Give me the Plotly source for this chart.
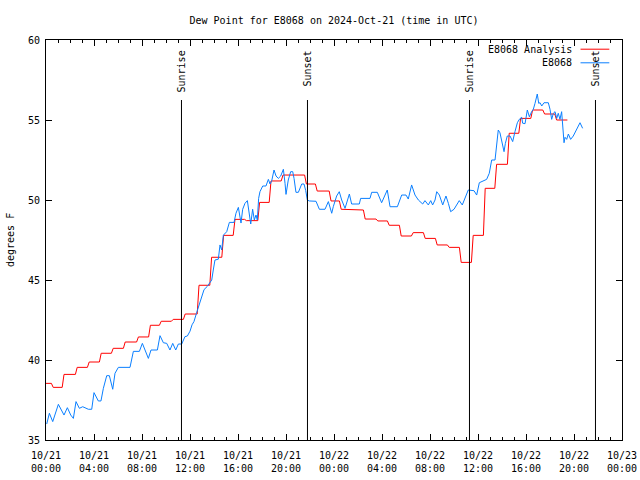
import pandas as pd
import plotly.graph_objects as go

# ---------------- data ----------------
base_day = "2024-10-21"

# Analysis (red): hourly step levels, hour offset where each level starts
red_step_hours = [0.0, 0.6, 1.5, 2.6, 3.6, 4.6, 5.6, 6.6, 7.7, 8.7, 9.6, 10.6, 11.6,
                  12.75, 13.8, 14.8, 15.75, 16.7, 17.8, 18.75, 19.75, 21.7, 22.6,
                  23.75, 24.6, 25.5, 26.6, 27.65, 28.6, 29.6, 30.6, 31.6, 32.6, 33.6,
                  34.6, 35.6, 36.6, 37.55, 38.6, 39.55, 40.55, 41.55, 42.55]
red_values = [38.54, 38.29, 39.1, 39.54, 39.875, 40.42, 40.73, 41.125, 41.44, 42.17,
              42.42, 42.54, 42.875, 44.67, 46.42, 47.79, 48.79, 48.71, 49.85, 51.19,
              51.56, 51.0, 50.56, 49.94, 49.42, 49.375, 48.81, 48.69, 48.42, 47.75,
              47.96, 47.6, 47.19, 47.04, 46.1, 47.79, 50.73, 52.23, 54.17, 55.1,
              55.625, 55.375, 55.0]
red_end_hour = 43.45

# Station observations (blue)
blue_hours = [0.06, 0.28, 0.56, 1.03, 1.5, 1.78, 2.06, 2.28, 2.5, 2.78, 3.06, 3.53, 3.81,
              4.0, 4.36, 4.58, 4.78, 5.06, 5.28, 5.56, 5.75, 6.03, 7.0, 7.28, 7.78,
              8.03, 8.53, 8.75, 9.28, 9.5, 9.78, 10.06, 10.33, 10.56, 10.81, 11.03,
              11.31, 11.58, 11.78, 12.0, 12.17, 12.33, 12.53, 12.81, 12.94, 13.17,
              13.44, 13.64, 13.81, 13.94, 14.08, 14.36, 14.5, 14.64, 14.78, 15.06,
              15.28, 15.67, 15.83, 16.03, 16.17, 16.25, 16.39, 16.58, 16.78, 16.92,
              17.06, 17.22, 17.36, 17.5, 17.61, 17.72, 17.83, 18.06, 18.33, 18.53,
              18.67, 18.81, 19.0, 19.17, 19.36, 19.56, 19.78, 19.92, 20.0, 20.19,
              20.39, 20.56, 20.67, 20.83, 21.03, 21.31, 21.5, 21.64, 21.78, 21.94,
              22.5, 22.78, 23.25, 23.53, 23.81, 23.94, 24.22, 24.44, 24.64, 24.92,
              25.28, 25.47, 26.11, 26.22, 27.0, 27.14, 27.61, 27.97, 28.44, 28.67,
              29.28, 29.64, 30.0, 30.19, 30.47, 30.75, 31.03, 31.39, 31.58, 31.86,
              32.06, 32.22, 32.42, 32.56, 32.78, 33.06, 33.33, 33.53, 33.72, 34.0,
              34.22, 34.44, 34.69, 35.06, 35.19, 35.67, 35.89, 36.11, 36.72, 36.94,
              37.14, 37.42, 37.56, 37.69, 37.83, 37.97, 38.17, 38.28, 38.44, 38.67,
              38.89, 39.08, 39.28, 39.44, 39.64, 39.72, 39.92, 40.11, 40.28, 40.47,
              40.61, 40.75, 40.94, 41.06, 41.17, 41.31, 41.5, 41.86, 42.0, 42.14,
              42.28, 42.42, 42.56, 42.69, 42.83, 42.97, 43.06, 43.17, 43.25, 43.39,
              43.53, 43.72, 43.94, 44.17, 44.36, 44.5, 44.72]
blue_values = [36.0, 36.67, 36.15, 37.23, 36.56, 37.02, 36.56, 36.35, 37.4, 36.98, 37.08,
               36.92, 36.92, 37.96, 37.44, 37.44, 38.23, 39.02, 39.02, 38.17, 39.17,
               39.54, 39.54, 40.54, 40.54, 41.04, 40.1, 40.625, 40.625, 41.52, 41.08,
               41.04, 40.625, 41.04, 40.625, 41.0, 41.0, 41.46, 41.5, 41.8, 42.2, 42.4,
               42.9, 43.6, 43.95, 44.4, 44.6, 44.85, 45.0, 45.625, 46.25, 46.3, 47.19,
               46.875, 47.8, 48.02, 48.6, 48.6, 49.17, 49.54, 48.79, 48.56, 49.42,
               49.79, 49.96, 49.17, 48.5, 49.42, 48.75, 49.06, 48.75, 50.1, 50.52,
               50.875, 50.875, 51.29, 51.0, 51.2, 51.875, 51.5, 51.35, 51.5, 51.92,
               51.04, 50.35, 51.25, 51.77, 51.77, 51.35, 50.48, 50.48, 51.0, 51.0, 50.6,
               50.0, 49.94, 49.92, 49.42, 49.42, 49.9, 49.17, 49.58, 50.25, 50.52, 50.0,
               49.48, 50.375, 49.75, 49.75, 50.1, 50.1, 50.48, 50.48, 49.83, 50.625,
               49.58, 49.58, 50.31, 50.31, 50.06, 50.94, 50.31, 50.0, 49.75, 49.96,
               49.69, 49.96, 49.69, 50.0, 50.52, 50.31, 49.69, 50.25, 49.79, 49.27,
               49.42, 49.69, 49.96, 49.69, 50.42, 50.625, 50.58, 50.31, 51.08, 51.29,
               51.67, 52.5, 52.5, 53.44, 54.375, 54.2, 53.75, 53.02, 53.54, 54.0, 54.0,
               53.65, 54.27, 54.83, 55.04, 55.17, 54.8, 54.77, 55.625, 55.2, 55.52,
               55.67, 56.04, 56.625, 56.04, 56.08, 55.875, 56.08, 56.08, 55.67, 55.04,
               55.42, 55.52, 55.1, 55.42, 55.04, 55.52, 54.375, 53.58, 53.92, 53.79,
               54.125, 53.79, 54.0, 54.375, 54.69, 54.83, 54.48]

sun_labels = ["Sunrise", "Sunset", "Sunrise", "Sunset"]
sun_hours = [11.29, 21.79, 35.29, 45.79]
sun_line_top = 56.25

tick_hours = [0, 4, 8, 12, 16, 20, 24, 28, 32, 36, 40, 44, 48]
tick_labels = ["10/21<br>00:00", "10/21<br>04:00", "10/21<br>08:00", "10/21<br>12:00",
               "10/21<br>16:00", "10/21<br>20:00", "10/22<br>00:00", "10/22<br>04:00",
               "10/22<br>08:00", "10/22<br>12:00", "10/22<br>16:00", "10/22<br>20:00",
               "10/23<br>00:00"]

series_names = ["E8068 Analysis", "E8068"]
series_colors = ["#ff0000", "#0a7fff"]
title_text = "Dew Point for E8068 on 2024-Oct-21 (time in UTC)"
y_title = "degrees F"

# ---------------- helpers ----------------
t0 = pd.Timestamp(base_day)


def to_time(hours):
    return [t0 + pd.Timedelta(hours=h) for h in hours]


# red: step levels with short sloped transitions
ramp = 0.15
rx, ry = [], []
ends = red_step_hours[1:] + [red_end_hour]
for i, (s, e, v) in enumerate(zip(red_step_hours, ends, red_values)):
    rx.append(s)
    ry.append(v)
    rx.append(e - ramp if i < len(red_values) - 1 else e)
    ry.append(v)

FONT = "DejaVu Sans Mono"
fig = go.Figure()
fig.add_trace(go.Scatter(x=to_time(rx), y=ry, mode="lines", name=series_names[0],
                         line=dict(color=series_colors[0], width=1), showlegend=False,
                         hoverinfo="skip"))
fig.add_trace(go.Scatter(x=to_time(blue_hours), y=blue_values, mode="lines",
                         name=series_names[1], hoverinfo="skip",
                         line=dict(color=series_colors[1], width=1), showlegend=False))

# sunrise / sunset markers
for lbl, h in zip(sun_labels, sun_hours):
    t = t0 + pd.Timedelta(hours=h)
    fig.add_shape(type="line", x0=t, x1=t, y0=35, y1=sun_line_top, xref="x", yref="y",
                  line=dict(color="black", width=1))
    fig.add_annotation(x=t, y=59.5, xref="x", yref="y", text=lbl, textangle=-90,
                       showarrow=False, xanchor="center", yanchor="top",
                       font=dict(family=FONT, size=10, color="black"))

# legend (gnuplot style: text then sample)
leg_y = [0.977, 0.943]
for name, col, yy in zip(series_names, series_colors, leg_y):
    fig.add_annotation(x=0.9167, y=yy, xref="paper", yref="paper", text=name,
                       showarrow=False, xanchor="right", yanchor="middle",
                       font=dict(family=FONT, size=10, color="black"))
    fig.add_shape(type="line", x0=0.928, x1=0.978, y0=yy, y1=yy, xref="paper",
                  yref="paper", line=dict(color=col, width=1))

# y axis title
fig.add_annotation(x=-0.0625, y=0.5, xref="paper", yref="paper", text=y_title,
                   textangle=-90, showarrow=False, xanchor="center", yanchor="middle",
                   font=dict(family=FONT, size=10, color="black"))

fig.update_layout(
    width=640, height=480,
    margin=dict(l=46, r=18, t=40, b=40, autoexpand=False),
    paper_bgcolor="white", plot_bgcolor="white",
    font=dict(family=FONT, size=10, color="black"),
    hovermode=False,
    title=dict(text=title_text, x=0.5, xref="paper", y=1 - 20 / 480, yref="container",
               yanchor="middle", xanchor="center", automargin=False,
               font=dict(family=FONT, size=10, color="black")),
)

fig.update_xaxes(
    range=[t0, t0 + pd.Timedelta(hours=48)],
    tickvals=to_time(tick_hours), ticktext=tick_labels,
    ticks="inside", ticklen=6, tickcolor="black", tickwidth=1,
    minor=dict(dtick=3600000, ticks="inside", ticklen=3, tickcolor="black",
               tickwidth=1, showgrid=False),
    showline=True, linecolor="black", linewidth=1, mirror="ticks",
    showgrid=False, zeroline=False, tickangle=0, automargin=False,
    ticklabelstandoff=6, ticklabeloverflow="allow",
    tickfont=dict(family=FONT, size=10, color="black"),
)
fig.update_yaxes(
    range=[35, 60], tickvals=[35, 40, 45, 50, 55, 60],
    ticks="inside", ticklen=6, tickcolor="black", tickwidth=1,
    showline=True, linecolor="black", linewidth=1, mirror="ticks",
    showgrid=False, zeroline=False, automargin=False,
    ticklabelstandoff=3, ticklabeloverflow="allow",
    tickfont=dict(family=FONT, size=10, color="black"),
)

fig.write_html("out.html",
               config={"displayModeBar": False, "staticPlot": True},
               post_script="document.body.style.margin='0px';"
                           "document.body.style.overflow='hidden';")
